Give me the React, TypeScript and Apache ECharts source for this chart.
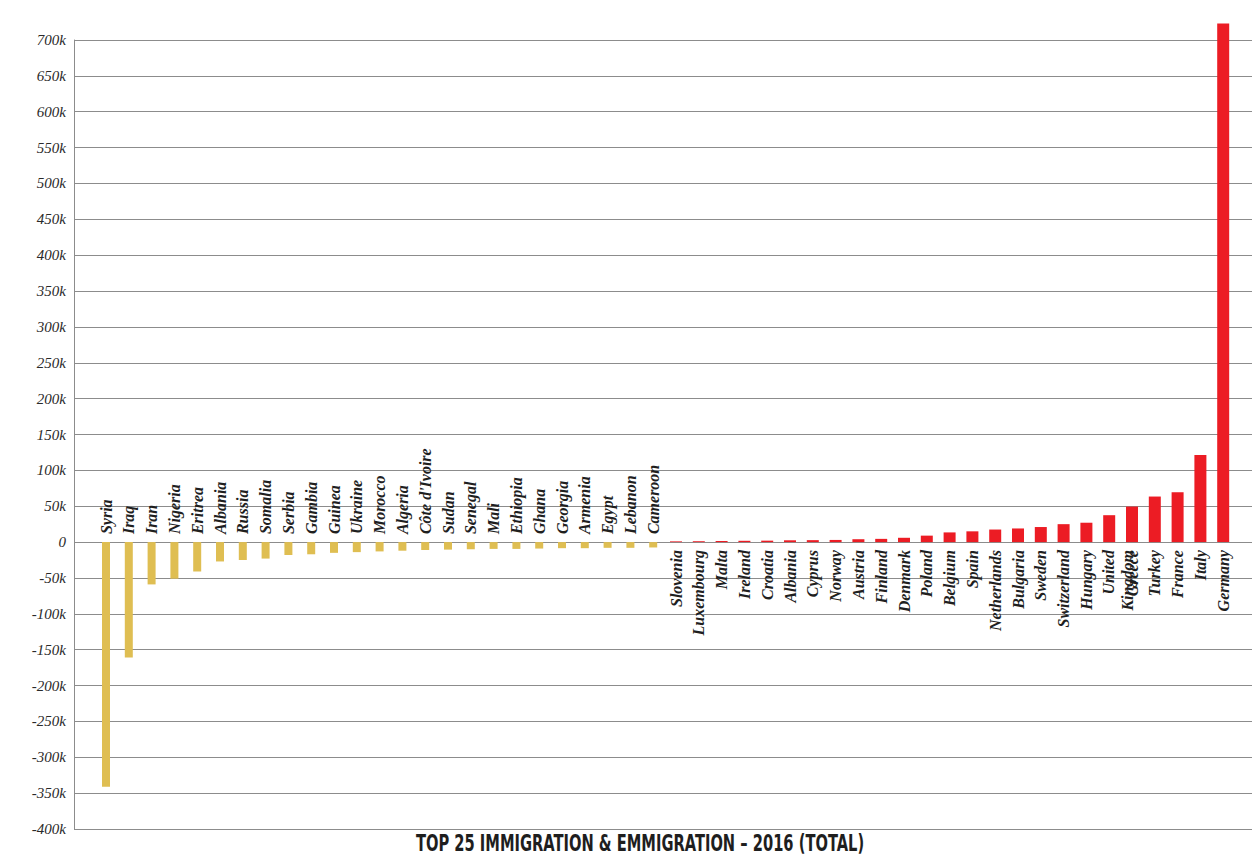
import React, { useEffect, useRef } from 'react';
import * as echarts from 'echarts';

// Net emigration (negative) by country of origin, 2016
const emigrationCountries = [
  'Syria', 'Iraq', 'Iran', 'Nigeria', 'Eritrea', 'Albania', 'Russia', 'Somalia', 'Serbia',
  'Gambia', 'Guinea', 'Ukraine', 'Morocco', 'Algeria', "Côte d'Ivoire", 'Sudan', 'Senegal',
  'Mali', 'Ethiopia', 'Ghana', 'Georgia', 'Armenia', 'Egypt', 'Lebanon', 'Cameroon',
];
const emigrationValues = [
  -341000, -161000, -59000, -51000, -41000, -27000, -25000, -23000, -18000,
  -17000, -15000, -14000, -13000, -12000, -11000, -10500, -10000,
  -9500, -9500, -9000, -8500, -8500, -8000, -8000, -7500,
];

// Net immigration by destination country, 2016
const immigrationCountries = [
  'Slovenia', 'Luxembourg', 'Malta', 'Ireland', 'Croatia', 'Albania', 'Cyprus', 'Norway',
  'Austria', 'Finland', 'Denmark', 'Poland', 'Belgium', 'Spain', 'Netherlands', 'Bulgaria',
  'Sweden', 'Switzerland', 'Hungary', 'United\nKingdom', 'Greece', 'Turkey', 'France', 'Italy',
  'Germany',
];
const immigrationValues = [
  1000, 1200, 1500, 1800, 2000, 2500, 2700, 3000,
  4000, 4500, 6000, 9000, 13500, 15000, 17500, 19000,
  21000, 25000, 27000, 37500, 49500, 63500, 69500, 121500,
  723000,
];

const Y_MIN = -400000;
const Y_MAX = 700000;
const Y_STEP = 50000;

const TITLE = 'TOP 25 IMMIGRATION & EMMIGRATION – 2016 (TOTAL)';

const EMIGRATION_COLOR = '#DFBE52';
const IMMIGRATION_COLOR = '#EC1C24';

export default function App() {
  const ref = useRef<HTMLDivElement>(null);

  useEffect(() => {
    if (!ref.current) return;
    const chart = echarts.init(ref.current, undefined, { renderer: 'svg' });

    const categories = [...emigrationCountries, ...immigrationCountries];
    const nE = emigrationCountries.length;
    const blanksE = emigrationCountries.map(() => '-');
    const blanksI = immigrationCountries.map(() => '-');

    const nameLabel = {
      show: true,
      rotate: 90,
      distance: 8,
      verticalAlign: 'middle',
      fontFamily: "'Liberation Serif', 'DejaVu Serif', serif",
      fontStyle: 'italic',
      fontWeight: 'bold',
      fontSize: 16,
      lineHeight: 19,
      color: '#1f1f1f',
    };

    // two-line names keep their first line on the bar
    const immigrationData = immigrationValues.map((v, i) =>
      immigrationCountries[i].includes('\n') ? { value: v, label: { offset: [0, 9] } } : v,
    );

    const hiddenCategoryAxis = {
      gridIndex: 1,
      type: 'category',
      data: categories,
      axisLine: { show: false },
      axisTick: { show: false },
      axisLabel: { show: false },
      splitLine: { show: false },
    };

    chart.setOption({
      animation: false,
      backgroundColor: '#ffffff',
      grid: [
        { left: 74, right: 5, top: 40, bottom: 29, containLabel: false, outerBoundsMode: 'none' },
        { left: 94.6, width: 1140, top: 40, bottom: 29, containLabel: false, outerBoundsMode: 'none' },
      ],
      xAxis: [
        { ...hiddenCategoryAxis },
        { ...hiddenCategoryAxis },
        { gridIndex: 0, type: 'value', show: false },
      ],
      yAxis: [
        {
          gridIndex: 0,
          type: 'value',
          min: Y_MIN,
          max: Y_MAX,
          interval: Y_STEP,
          axisLine: { show: true, onZero: false, lineStyle: { color: '#8c8c8c', width: 1 } },
          axisTick: { show: false },
          splitLine: { show: true, lineStyle: { color: '#8c8c8c', width: 1 } },
          axisLabel: {
            margin: 8,
            fontFamily: "'Liberation Serif', 'DejaVu Serif', serif",
            fontStyle: 'italic',
            fontSize: 15,
            color: '#2a2a2a',
            formatter: (v: number) => (v === 0 ? '0' : `${v / 1000}k`),
          },
        },
        {
          gridIndex: 1,
          type: 'value',
          min: Y_MIN,
          max: Y_MAX,
          interval: Y_STEP,
          axisLine: { show: false },
          axisTick: { show: false },
          axisLabel: { show: false },
          splitLine: { show: false },
        },
      ],
      series: [
        {
          name: 'Emigration',
          type: 'bar',
          xAxisIndex: 1,
          yAxisIndex: 1,
          barWidth: 8,
          itemStyle: { color: EMIGRATION_COLOR },
          // negative bars: name sits above the zero line, reading upward
          label: {
            ...nameLabel,
            position: 'top',
            align: 'left',
            formatter: (p: any) => categories[p.dataIndex],
          },
          data: [...emigrationValues, ...blanksI],
        },
        {
          name: 'Immigration',
          type: 'bar',
          xAxisIndex: 0,
          yAxisIndex: 1,
          barWidth: 12,
          clip: false,
          itemStyle: { color: IMMIGRATION_COLOR },
          // positive bars: name hangs below the zero line
          label: {
            ...nameLabel,
            position: 'bottom',
            align: 'right',
            formatter: (p: any) => (p.dataIndex >= nE ? categories[p.dataIndex] : ''),
          },
          data: [...blanksE, ...immigrationData],
        },
      ],
      graphic: [
        {
          type: 'text',
          x: 640,
          y: 843,
          scaleX: 0.71,
          style: {
            text: TITLE,
            textAlign: 'center',
            textVerticalAlign: 'middle',
            fontFamily: "'Liberation Sans Narrow', 'DejaVu Sans Condensed', sans-serif",
            fontWeight: 'bold',
            fontSize: 23,
            fill: '#1e1e1e',
          },
        },
      ],
    });

    return () => chart.dispose();
  }, []);

  return (
    <div
      ref={ref}
      style={{ position: 'fixed', left: 0, top: 0, width: 1257, height: 858, background: '#fff' }}
    />
  );
}
